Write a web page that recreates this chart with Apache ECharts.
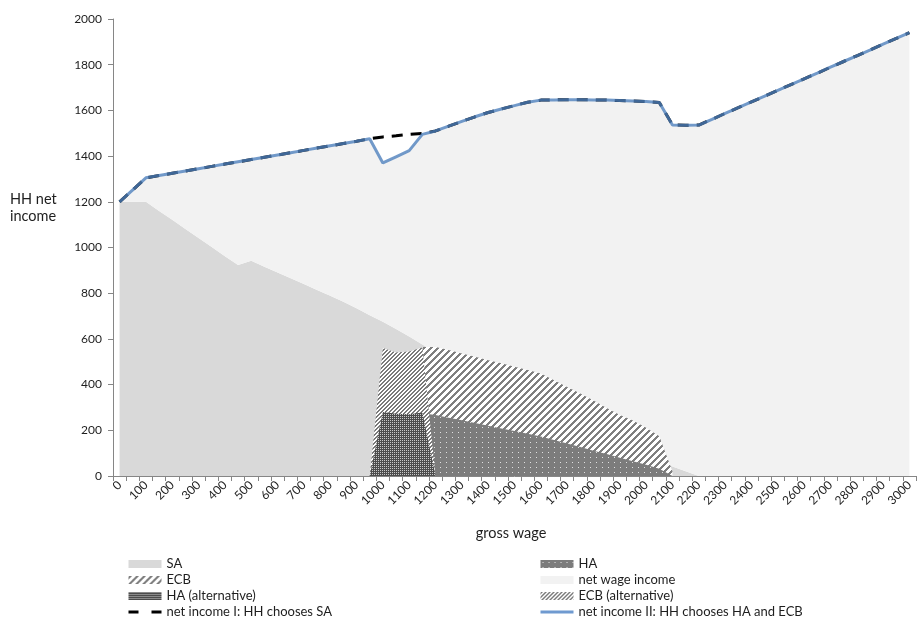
<!DOCTYPE html>
<html>
<head>
<meta charset="utf-8">
<script src="https://cdn.jsdelivr.net/npm/echarts@6/dist/echarts.min.js"></script>
<style>
  html, body { margin: 0; padding: 0; background: #ffffff; }
  #chart { width: 918px; height: 620px; }
</style>
</head>
<body>
<div id="chart"></div>
<script>
// Gross wage categories (step 50, every second one labelled)
const grossWage = [
  0, 50, 100, 150, 200, 250, 300, 350, 400, 450, 500, 550, 600, 650, 700, 750, 800, 850, 900, 950,
  1000, 1050, 1100, 1150, 1200, 1250, 1300, 1350, 1400, 1450, 1500, 1550, 1600, 1650, 1700, 1750,
  1800, 1850, 1900, 1950, 2000, 2050, 2100, 2150, 2200, 2250, 2300, 2350, 2400, 2450, 2500, 2550,
  2600, 2650, 2700, 2750, 2800, 2850, 2900, 2950, 3000
];

// Social assistance
const sa = [
  1200, 1200, 1200, 1160, 1121, 1081, 1042, 1002, 962, 923, 942, 916, 891, 865, 840, 814, 789, 763, 734, 704,
  675, 643, 610, 575, 540, 512, 484, 456, 428, 400, 372, 344, 316, 288, 260, 232, 204, 176, 148, 120, 92, 63,
  42, 21, 0, 0, 0, 0, 0, 0, 0, 0, 0, 0, 0, 0, 0, 0, 0, 0, 0
];

// Housing allowance
const ha = [
  null, null, null, null, null, null, null, null, null, null, null, null, null, null, null, null, null, null, null, null,
  null, null, 0, 275, 267, 255, 244, 232, 220, 208, 197, 185, 173, 158, 142, 127, 111, 96, 80, 65, 49, 32,
  0, null, null, null, null, null, null, null, null, null, null, null, null, null, null, null, null, null, null
];

// Extra child benefit
const ecb = [
  null, null, null, null, null, null, null, null, null, null, null, null, null, null, null, null, null, null, null, null,
  null, null, 0, 290, 298, 296, 292, 290, 287, 285, 281, 279, 276, 261, 248, 234, 219, 202, 187, 178, 162, 142,
  20, null, null, null, null, null, null, null, null, null, null, null, null, null, null, null, null, null, null
];

// Housing allowance / extra child benefit, alternative choice
const haAlt = [
  null, null, null, null, null, null, null, null, null, null, null, null, null, null, null, null, null, null, null, 0,
  280, 272, 270, 278, 0, null, null, null, null, null, null, null, null, null, null, null, null, null, null, null, null, null,
  null, null, null, null, null, null, null, null, null, null, null, null, null, null, null, null, null, null, null
];
const ecbAlt = [
  null, null, null, null, null, null, null, null, null, null, null, null, null, null, null, null, null, null, null, 0,
  280, 268, 275, 284, 0, null, null, null, null, null, null, null, null, null, null, null, null, null, null, null, null, null,
  null, null, null, null, null, null, null, null, null, null, null, null, null, null, null, null, null, null, null
];

// Household net income
const netIncomeI = [
  1200, 1252, 1305, 1315, 1325, 1335, 1345, 1355, 1365, 1375, 1385, 1395, 1405, 1415, 1425, 1435, 1445, 1455, 1465, 1476,
  1484, 1489, 1495, 1499, 1510, 1531, 1552, 1572, 1591, 1606, 1621, 1636, 1645, 1646, 1647, 1647, 1646, 1645, 1643, 1641, 1639, 1635,
  1536, 1535, 1536, 1561, 1587, 1612, 1637, 1662, 1688, 1713, 1738, 1763, 1789, 1814, 1839, 1864, 1890, 1915, 1940
];
const netIncomeII = [
  1200, 1252, 1305, 1315, 1325, 1335, 1345, 1355, 1365, 1375, 1385, 1395, 1405, 1415, 1425, 1435, 1445, 1455, 1465, 1476,
  1370, 1397, 1424, 1495, 1510, 1531, 1552, 1572, 1591, 1606, 1621, 1636, 1645, 1646, 1647, 1647, 1646, 1645, 1643, 1641, 1639, 1635,
  1536, 1535, 1536, 1561, 1587, 1612, 1637, 1662, 1688, 1713, 1738, 1763, 1789, 1814, 1839, 1864, 1890, 1915, 1940
];

// Derived series: net wage sits on top of SA up to net income II; ECB tops stack on HA
const netWage = netIncomeII.map((v, i) => v - sa[i]);
const ecbTop = ha.map((h, i) => (h == null ? null : h + ecb[i]));
const ecbAltTop = haAlt.map((h, i) => (h == null ? null : h + ecbAlt[i]));

// Pixel fill patterns
function tile(w, h, bg, fg, test) {
  const c = document.createElement('canvas');
  c.width = w; c.height = h;
  const ctx = c.getContext('2d');
  ctx.fillStyle = bg; ctx.fillRect(0, 0, w, h);
  ctx.fillStyle = fg;
  for (let y = 0; y < h; y++) for (let x = 0; x < w; x++) if (test(x, y)) ctx.fillRect(x, y, 1, 1);
  return { image: c, repeat: 'repeat' };
}
const patECB = tile(7, 7, '#ffffff', '#7f7f7f', (x, y) => (x + y) % 7 < 3);
const patECBAlt = tile(4, 4, '#ffffff', '#7a7a7a', (x, y) => (x + y) % 4 < 2);
const patHA = tile(6, 5, '#7c7c7c', '#e0e0e0', (x, y) => x === 2 && y === 2);
const patHAAlt = tile(4, 4, '#4c4c4c', '#c8c8c8', (x, y) => x % 2 === 0 && y % 2 === 0);

const FONT = 'Lato, "Liberation Sans", sans-serif';
const TXT = '#1e1e1e';
const AXIS = '#868686';

function area(name, data, fill, extra) {
  return Object.assign({
    name, type: 'line', data,
    symbol: 'none', showSymbol: false,
    lineStyle: { width: 0, opacity: 0 },
    itemStyle: { color: fill },
    areaStyle: { color: fill, opacity: 1, origin: 'start' },
    emphasis: { disabled: true },
    silent: true
  }, extra || {});
}

const chart = echarts.init(document.getElementById('chart'), null, { renderer: 'canvas' });

const legendBase = {
  orient: 'vertical',
  top: 556,
  height: 80,
  padding: 0,
  itemWidth: 33,
  itemHeight: 8,
  itemGap: 0,
  selectedMode: false,
  textStyle: { fontFamily: FONT, fontSize: 13, color: TXT, lineHeight: 16 }
};
// line entries: keep only the stroke, no marker in the middle
const noMarker = { color: 'rgba(0,0,0,0)', opacity: 0, borderWidth: 0 };

chart.setOption({
  animation: false,
  backgroundColor: '#ffffff',
  grid: { left: 113, right: 2, top: 19, bottom: 144, containLabel: false },
  xAxis: {
    type: 'category',
    data: grossWage,
    boundaryGap: true,
    axisLine: { lineStyle: { color: AXIS, width: 1 } },
    axisTick: { show: true, interval: 0, length: 5, lineStyle: { color: AXIS } },
    axisLabel: {
      interval: 1, rotate: 45, margin: 7,
      fontFamily: FONT, fontSize: 12, color: TXT
    },
    splitLine: { show: false }
  },
  yAxis: {
    type: 'value',
    min: 0, max: 2000, interval: 200,
    axisLine: { show: true, lineStyle: { color: AXIS, width: 1 } },
    axisTick: { show: true, length: 5, lineStyle: { color: AXIS } },
    axisLabel: { margin: 11, fontFamily: FONT, fontSize: 12, color: TXT, formatter: (v) => String(v) },
    splitLine: { show: false }
  },
  legend: [
    Object.assign({}, legendBase, {
      left: 127,
      data: [
        { name: 'SA', icon: 'rect', itemStyle: { color: '#d9d9d9' } },
        { name: 'ECB', icon: 'rect', itemStyle: { color: patECB } },
        { name: 'HA (alternative)', icon: 'rect', itemStyle: { color: patHAAlt } },
        { name: 'net income I: HH chooses SA', itemStyle: noMarker,
          lineStyle: { color: '#000000', width: 3, type: [10, 13], cap: 'butt' } }
      ]
    }),
    Object.assign({}, legendBase, {
      left: 539,
      data: [
        { name: 'HA', icon: 'rect', itemStyle: { color: patHA } },
        { name: 'net wage income', icon: 'rect', itemStyle: { color: '#f2f2f2' } },
        { name: 'ECB (alternative)', icon: 'rect', itemStyle: { color: patECBAlt } },
        { name: 'net income II: HH chooses HA and ECB', itemStyle: noMarker,
          lineStyle: { color: '#6f9ad0', width: 3 } }
      ]
    })
  ],
  graphic: [
    {
      type: 'text', left: 10, top: 191,
      style: { text: 'HH net\nincome', font: '14.5px ' + FONT, fill: TXT, lineHeight: 17 }
    },
    {
      type: 'text', x: 511, y: 533,
      style: { text: 'gross wage', font: '14.5px ' + FONT, fill: TXT, align: 'center', verticalAlign: 'middle' }
    }
  ],
  series: [
    area('SA', sa, '#d9d9d9', { stack: 'income' }),
    area('net wage income', netWage, '#f2f2f2', { stack: 'income' }),
    area('ECB', ecbTop, patECB),
    area('HA', ha, patHA),
    area('ECB (alternative)', ecbAltTop, patECBAlt),
    area('HA (alternative)', haAlt, patHAAlt),
    {
      name: 'net income I: HH chooses SA', type: 'line', data: netIncomeI,
      symbol: 'none', showSymbol: false,
      itemStyle: { color: '#000000' },
      lineStyle: { color: '#000000', width: 3, type: [11, 8], cap: 'butt' },
      emphasis: { disabled: true }, silent: true
    },
    {
      name: 'net income II: HH chooses HA and ECB', type: 'line', data: netIncomeII,
      symbol: 'none', showSymbol: false,
      itemStyle: { color: '#5b8cc8' },
      lineStyle: { color: 'rgba(79,129,189,0.8)', width: 3 },
      emphasis: { disabled: true }, silent: true
    }
  ]
});
</script>
</body>
</html>
